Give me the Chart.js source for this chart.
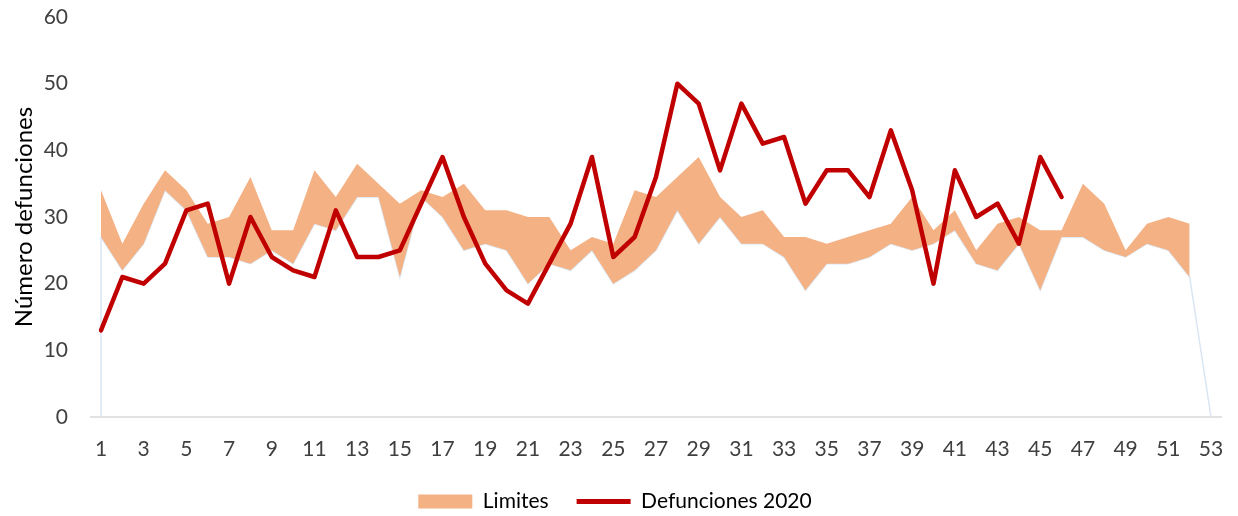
<!DOCTYPE html>
<html>
<head>
<meta charset="utf-8">
<script src="https://cdn.jsdelivr.net/npm/chart.js@4.4.0/dist/chart.umd.min.js"></script>
<style>
  html, body { margin: 0; padding: 0; background: #fff; }
  #wrap { width: 1238px; height: 516px; }
</style>
</head>
<body>
<div id="wrap"><canvas id="chart"></canvas></div>
<script>
const weeks = ['1','2','3','4','5','6','7','8','9','10','11','12','13','14','15','16','17','18','19','20',
  '21','22','23','24','25','26','27','28','29','30','31','32','33','34','35','36','37','38','39','40',
  '41','42','43','44','45','46','47','48','49','50','51','52','53'];

const lowerLimit = [27, 22, 26, 34, 31, 24, 24, 23, 25, 23, 29, 28, 33, 33, 21, 33, 30, 25, 26, 25,
  20, 23, 22, 25, 20, 22, 25, 31, 26, 30, 26, 26, 24, 19, 23, 23, 24, 26, 25, 26,
  28, 23, 22, 26, 19, 27, 27, 25, 24, 26, 25, 21, 0];

const upperLimit = [34, 26, 32, 37, 34, 29, 30, 36, 28, 28, 37, 33, 38, 35, 32, 34, 33, 35, 31, 31,
  30, 30, 25, 27, 26, 34, 33, 36, 39, 33, 30, 31, 27, 27, 26, 27, 28, 29, 33, 28,
  31, 25, 29, 30, 28, 28, 35, 32, 25, 29, 30, 29, null];

const deaths2020 = [13, 21, 20, 23, 31, 32, 20, 30, 24, 22, 21, 31, 24, 24, 25, 32, 39, 30, 23, 19,
  17, 23, 29, 39, 24, 27, 36, 50, 47, 37, 47, 41, 42, 32, 37, 37, 33, 43, 34, 20,
  37, 30, 32, 26, 39, 33];

const FONT = 'Lato';
const TEXT = '#404040';

// baseline a bit wider than the plot, plus the left edge of the lower area
const extras = {
  id: 'extras',
  beforeInit(chart) {
    // pull the legend a little lower
    const fit = chart.legend.fit;
    chart.legend.fit = function () {
      fit.call(this);
      this.height -= 6;
    };
  },
  beforeDatasetsDraw(chart) {
    const { ctx, chartArea, scales } = chart;
    const y0 = scales.y.getPixelForValue(0);
    ctx.save();
    ctx.strokeStyle = '#d9d9d9';
    ctx.lineWidth = 1.5;
    ctx.beginPath();
    ctx.moveTo(chartArea.left - 11, y0);
    ctx.lineTo(chartArea.right + 11, y0);
    ctx.stroke();
    const first = chart.getDatasetMeta(2).data[0];
    ctx.strokeStyle = '#dae6f3';
    ctx.beginPath();
    ctx.moveTo(first.x, y0);
    ctx.lineTo(first.x, first.y);
    ctx.stroke();
    ctx.restore();
  }
};

const data = {
  labels: weeks,
  datasets: [
    {
      label: 'Defunciones 2020',
      data: deaths2020,
      borderColor: '#c00000',
      backgroundColor: '#c00000',
      borderWidth: 4.5,
      borderJoinStyle: 'round',
      borderCapStyle: 'round',
      pointRadius: 0,
      tension: 0,
      fill: false
    },
    {
      label: 'Limites',
      data: upperLimit,
      borderColor: '#f4b183',
      backgroundColor: '#f4b183',
      borderWidth: 0,
      pointRadius: 0,
      tension: 0,
      fill: '+1'
    },
    {
      label: 'lower',
      data: lowerLimit,
      borderColor: '#dae6f3',
      borderWidth: 1.5,
      pointRadius: 0,
      tension: 0,
      fill: false
    }
  ]
};

const config = {
  type: 'line',
  data: data,
  options: {
    responsive: true,
    maintainAspectRatio: false,
    animation: false,
    layout: { padding: { left: 9.5, right: 17.5, top: 17, bottom: 0 } },
    plugins: {
      tooltip: { enabled: false },
      legend: {
        position: 'bottom',
        reverse: true,
        labels: {
          font: { family: FONT, size: 21 },
          color: '#000',
          usePointStyle: true,
          pointStyleWidth: 54,
          boxHeight: 14,
          padding: 28,
          filter: item => item.text !== 'lower',
          generateLabels(chart) {
            const items = Chart.defaults.plugins.legend.labels.generateLabels(chart);
            items.forEach(it => {
              if (it.text === 'Limites') { it.pointStyle = 'rect'; it.lineWidth = 0; }
              else { it.pointStyle = 'line'; it.lineWidth = 5; it.strokeStyle = '#c00000'; }
            });
            return items;
          }
        }
      }
    },
    scales: {
      x: {
        offset: false,
        grid: { display: false },
        border: { display: false },
        afterFit: s => { s.height = 46; s.paddingLeft = 0; s.paddingRight = 27; },
        ticks: {
          autoSkip: false,
          maxRotation: 0,
          color: TEXT,
          font: { family: FONT, size: 21 },
          padding: 12,
          callback: (v, i) => (i % 2 === 0 ? weeks[i] : '')
        }
      },
      y: {
        min: 0,
        max: 60,
        grid: { display: false },
        border: { display: false },
        afterFit: s => { s.width = 91.5; s.paddingTop = 0; s.paddingBottom = 0; },
        ticks: {
          stepSize: 10,
          color: TEXT,
          font: { family: FONT, size: 21 },
          padding: 25
        },
        title: {
          display: true,
          text: 'Número defunciones',
          color: '#000',
          font: { family: FONT, size: 24 },
          padding: { top: 0.5, bottom: 0 }
        }
      }
    }
  },
  plugins: [extras]
};

const ctx = document.getElementById('chart').getContext('2d');
const myChart = new Chart(ctx, config);
</script>
</body>
</html>
